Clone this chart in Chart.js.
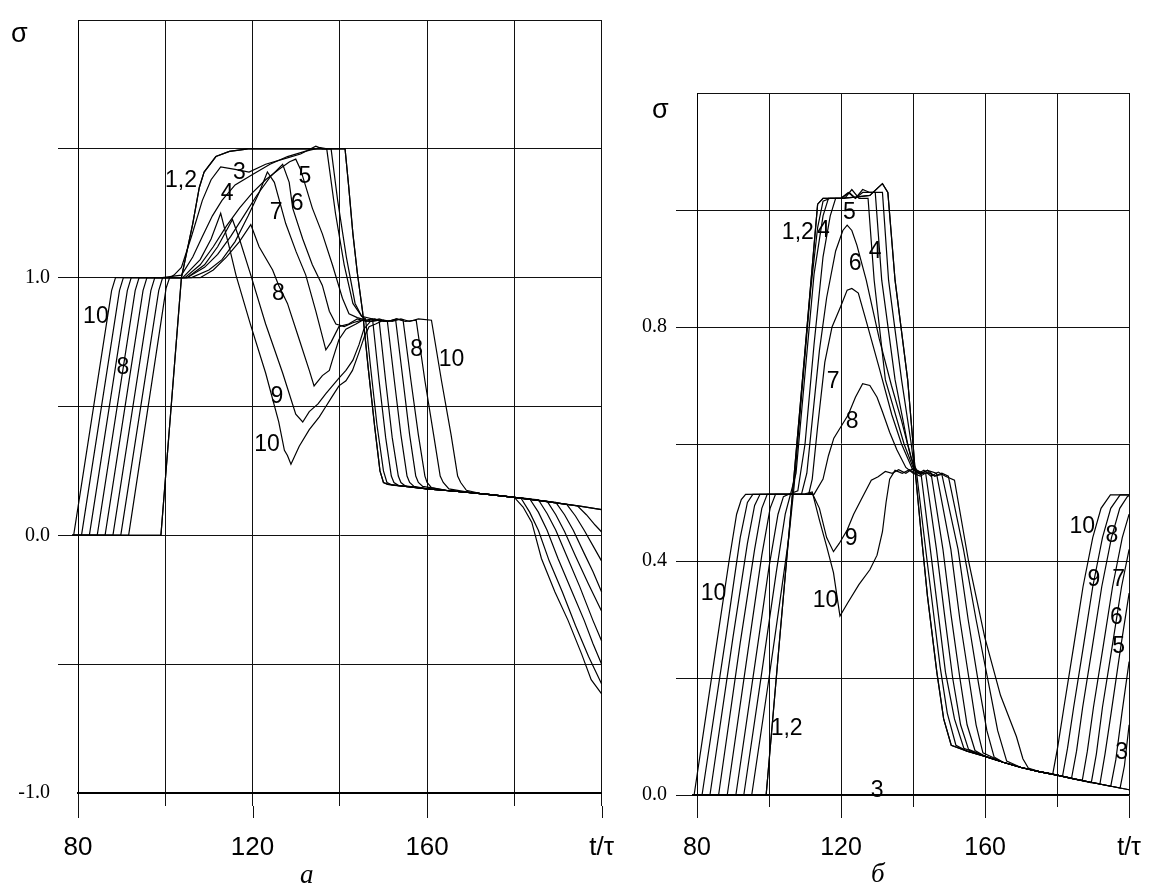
<!DOCTYPE html>
<html>
<head>
<meta charset="utf-8">
<script src="https://cdn.jsdelivr.net/npm/chart.js@4.4.1/dist/chart.umd.min.js"></script>
<style>
html, body { margin: 0; padding: 0; background: #fff; overflow: hidden; }
#wrap { position: relative; width: 1167px; height: 887px; }
canvas { position: absolute; top: 0; }
.sig { position: absolute; font-family: "Liberation Sans", Arial, sans-serif; font-size: 27px; line-height: 1; color: #000; }
.cap { position: absolute; font-family: "Liberation Serif", "Times New Roman", serif; font-style: italic; font-size: 27px; line-height: 1; color: #000; }
</style>
</head>
<body>
<div id="wrap">
  <canvas id="chartA" width="640" height="887" style="left:0"></canvas>
  <canvas id="chartB" width="567" height="887" style="left:600px"></canvas>
  <div class="sig" style="left:11px;top:20px">σ</div>
  <div class="sig" style="left:652px;top:96px">σ</div>
  <div class="cap" style="left:300px;top:861px">а</div>
  <div class="cap" style="left:871px;top:860px">б</div>
</div>
<script>
// panel а : sigma vs t/tau, curves 1..10 (1 and 2 coincide)
var a12 = [[78.7,0],[99,0],[103.7,1.0],[106.3,1.21],[107.8,1.35],[108.9,1.41],[111.6,1.47],[114.7,1.49],[119,1.5],[130,1.5],[141.2,1.5],[142,1.36],[143,1.17],[144,1.02],[145.2,0.87],[146.5,0.65],[148,0.42],[149.2,0.25],[150,0.205],[151,0.198],[155,0.19],[160,0.18],[165,0.173],[170,0.166],[175,0.157],[180,0.147],[185,0.137],[190,0.125],[195,0.113],[200,0.1]];
var a3 = [[78.7,0],[91.6,0],[100.2,0.96],[101,1.0],[102,1.01],[103.7,1.04],[106,1.16],[108.5,1.3],[110.5,1.38],[112.7,1.43],[116,1.42],[119.2,1.41],[123,1.44],[127,1.46],[131,1.48],[134.5,1.51],[136,1.5],[138,1.5],[139.5,1.3],[141.5,1.08],[143.5,0.9],[145,0.85],[145.9,0.84],[147,0.66],[148.5,0.43],[150,0.25],[150.8,0.205],[152,0.195],[155,0.19],[160,0.18],[165,0.173],[170,0.166],[175,0.157],[180,0.147],[185,0.137],[190,0.125],[194.5,0.114],[196.5,0.08],[198.5,0.04],[200,0.013]];
var a4 = [[78.7,0],[89.8,0],[98.5,0.95],[99.4,1.0],[103.7,1.01],[106.3,1.08],[108.5,1.16],[110.8,1.24],[113,1.3],[116,1.36],[120,1.4],[124,1.44],[128,1.47],[132,1.49],[135.5,1.505],[137,1.5],[139,1.25],[141,1.05],[143,0.9],[145,0.85],[147.5,0.84],[149,0.6],[150.5,0.38],[151.8,0.23],[152.4,0.205],[153.5,0.193],[160,0.18],[165,0.173],[170,0.166],[175,0.157],[180,0.147],[185,0.137],[190,0.125],[192,0.12],[194,0.075],[196,0.02],[198,-0.04],[200,-0.1]];
var a5 = [[78.7,0],[88,0],[96.7,0.95],[97.6,1.0],[104.5,1.0],[108,1.05],[111,1.12],[114,1.2],[117,1.27],[120,1.33],[123,1.38],[126,1.42],[128.5,1.45],[129.9,1.46],[131,1.42],[133.7,1.27],[136,1.17],[138.3,1.05],[140.6,0.92],[142.1,0.86],[144,0.845],[146,0.835],[147.5,0.84],[149,0.835],[150.5,0.6],[152,0.38],[153.4,0.23],[154,0.205],[155,0.192],[160,0.18],[165,0.173],[170,0.166],[175,0.157],[180,0.147],[185,0.137],[189.5,0.128],[191.5,0.08],[193.5,0.02],[196,-0.07],[198,-0.14],[200,-0.22]];
var a6 = [[78.7,0],[86.2,0],[94.9,0.95],[95.8,1.0],[105,1.0],[109,1.04],[112,1.09],[115,1.16],[118,1.24],[121,1.32],[124,1.39],[126.9,1.44],[128.4,1.37],[129.2,1.27],[131.5,1.15],[133.7,1.05],[136,0.97],[137.6,0.87],[139.1,0.82],[141,0.81],[143,0.825],[145,0.835],[147,0.83],[149,0.835],[150.9,0.83],[152.5,0.6],[154,0.39],[155.4,0.23],[156,0.205],[157,0.19],[160,0.18],[165,0.173],[170,0.166],[175,0.157],[180,0.147],[185,0.137],[187.5,0.133],[189.5,0.08],[191.5,0.015],[194,-0.08],[197,-0.19],[200,-0.295]];
var a7 = [[78.7,0],[84.4,0],[93.1,0.95],[94,1.0],[106,1.0],[110,1.03],[113,1.07],[116,1.14],[119,1.24],[121.5,1.33],[123.4,1.41],[125,1.37],[127.6,1.21],[130,1.1],[132.2,1.01],[134.5,0.87],[136.8,0.72],[138,0.75],[139.8,0.81],[142,0.82],[144,0.84],[146,0.83],[148,0.84],[150,0.83],[152.8,0.835],[154.5,0.6],[156,0.39],[157.4,0.23],[158,0.205],[159,0.19],[165,0.173],[170,0.166],[175,0.157],[180,0.147],[185.5,0.138],[187.5,0.085],[189.5,0.02],[192,-0.08],[195,-0.2],[198,-0.33],[200,-0.41]];
var a8 = [[78.7,0],[82.6,0],[91.3,0.95],[92.2,1.0],[108,1.0],[111,1.03],[114,1.08],[117,1.14],[119.6,1.206],[121.5,1.12],[124.6,1.03],[126,0.97],[128,0.9],[130.7,0.76],[133,0.64],[134.1,0.58],[136,0.62],[137.6,0.64],[138.3,0.68],[139.8,0.76],[141.4,0.8],[143.7,0.82],[145.2,0.835],[147,0.83],[149,0.84],[151,0.83],[153,0.84],[154.5,0.835],[156.3,0.6],[158,0.39],[159.5,0.23],[160,0.205],[161,0.185],[165,0.173],[170,0.166],[175,0.157],[180,0.147],[183.5,0.142],[185.5,0.09],[187.5,0.02],[190,-0.09],[193,-0.21],[196,-0.33],[198,-0.42],[200,-0.5]];
var a9 = [[78.7,0],[80.8,0],[89.5,0.95],[90.4,1.0],[105,1.0],[109,1.05],[112,1.12],[115.4,1.226],[117,1.15],[119.6,1.01],[123,0.82],[126.9,0.63],[129.9,0.47],[131.5,0.44],[133,0.48],[135,0.51],[136.8,0.55],[138.3,0.58],[139.8,0.61],[141.4,0.64],[143,0.68],[144.4,0.74],[145.5,0.8],[147,0.83],[149,0.835],[151,0.83],[153,0.84],[155,0.83],[157.5,0.835],[159.5,0.6],[161.5,0.39],[163,0.23],[163.7,0.205],[165,0.18],[170,0.166],[175,0.157],[180,0.147],[181.5,0.145],[183.5,0.09],[185.5,0.02],[188,-0.1],[191,-0.22],[194,-0.35],[197,-0.47],[200,-0.577]];
var a10 = [[78.7,0],[79,0],[87.7,0.95],[88.6,1.0],[104,1.0],[108,1.07],[110.5,1.15],[112.7,1.25],[114.5,1.13],[116.2,1.01],[119.5,0.82],[123,0.63],[126,0.44],[127.3,0.33],[128,0.31],[128.8,0.276],[130.7,0.346],[133,0.41],[135.3,0.46],[136.8,0.5],[138.3,0.54],[139.8,0.58],[141.4,0.6],[142.9,0.64],[144.4,0.71],[145.6,0.77],[146.7,0.81],[148.2,0.82],[150,0.835],[152,0.83],[154,0.84],[156,0.83],[158,0.84],[161,0.835],[163.3,0.6],[165.5,0.39],[167,0.23],[167.7,0.205],[169,0.175],[172,0.163],[176,0.155],[180,0.147],[182,0.11],[184,0.05],[186.2,-0.09],[189.3,-0.22],[192.3,-0.33],[195.4,-0.46],[197.6,-0.56],[200,-0.615]];

// panel б
var b12 = [[78.7,0],[99.2,0],[103,0.27],[106.5,0.514],[110,0.76],[112.8,0.96],[113.5,1.01],[115,1.02],[120,1.02],[124,1.022],[128,1.025],[130.6,1.04],[131.5,1.045],[133,1.03],[135,0.88],[138.5,0.71],[140,0.6],[140.5,0.56],[142.2,0.45],[144,0.34],[146.6,0.21],[148.5,0.13],[150.6,0.085],[155,0.075],[160,0.066],[165,0.056],[170,0.047],[175,0.04],[180,0.034],[185,0.027],[190,0.021],[195,0.015],[200,0.009]];
var b3 = [[78.7,0],[95.2,0],[100,0.2],[103,0.33],[105.5,0.44],[107,0.53],[109,0.68],[111.5,0.86],[113.5,0.97],[115,1.015],[117,1.02],[120,1.02],[122.3,1.03],[124,1.02],[126,1.03],[129,1.03],[131.5,1.03],[133.2,0.88],[136.8,0.71],[139.5,0.6],[140.3,0.56],[141,0.55],[143.5,0.42],[145.5,0.32],[147.5,0.22],[149.5,0.14],[151.9,0.085],[155,0.075],[160,0.066],[165,0.056],[170,0.047],[175,0.04],[180,0.034],[185,0.027],[190,0.021],[195,0.015],[197.5,0.012],[198.7,0.05],[200,0.12]];
var b4 = [[78.7,0],[93,0],[98,0.21],[102,0.38],[104.5,0.48],[106,0.515],[107.5,0.55],[110,0.72],[112.5,0.89],[115,0.99],[116.5,1.02],[120,1.02],[122,1.03],[124,1.02],[126,1.035],[128,1.03],[129.5,1.03],[131.3,0.88],[135,0.71],[138.5,0.6],[140.2,0.56],[142.2,0.55],[145,0.41],[147,0.31],[149,0.21],[151.5,0.13],[154.1,0.08],[160,0.066],[165,0.056],[170,0.047],[175,0.04],[180,0.034],[185,0.027],[190,0.021],[194.9,0.015],[196.3,0.06],[198,0.14],[200,0.228]];
var b5 = [[78.7,0],[90.8,0],[96,0.22],[100,0.39],[102.5,0.48],[104,0.51],[105.5,0.514],[108,0.52],[110,0.6],[112.5,0.77],[115,0.92],[117,0.99],[118.5,1.02],[121,1.02],[123,1.035],[125,1.02],[127.5,1.02],[129.2,0.88],[132.3,0.71],[137.5,0.6],[140,0.56],[141.5,0.55],[143.5,0.55],[146.5,0.42],[148.7,0.31],[151,0.2],[153.2,0.12],[155.4,0.078],[160,0.066],[165,0.056],[170,0.047],[175,0.04],[180,0.034],[185,0.027],[190,0.021],[191.9,0.019],[193.3,0.07],[195,0.14],[197.7,0.254],[200,0.345]];
var b6 = [[78.7,0],[88.4,0],[94,0.24],[98,0.41],[100.3,0.49],[101.8,0.514],[109,0.514],[110.5,0.55],[112,0.64],[114,0.76],[116,0.85],[118.5,0.93],[120.5,0.965],[121.7,0.974],[123,0.965],[124.4,0.94],[127,0.88],[130.6,0.78],[134,0.7],[136.8,0.64],[139.5,0.575],[141,0.555],[143,0.55],[145,0.55],[148.3,0.42],[150.5,0.31],[153,0.2],[155,0.12],[157.2,0.076],[160,0.066],[165,0.056],[170,0.047],[175,0.04],[180,0.034],[185,0.027],[189.5,0.021],[190.9,0.07],[192.6,0.15],[195.3,0.254],[197.9,0.356],[200,0.42]];
var b7 = [[78.7,0],[86,0],[92,0.26],[96,0.42],[98,0.49],[99.5,0.514],[111,0.514],[112,0.54],[113.5,0.63],[115.5,0.74],[117.5,0.8],[119.9,0.835],[121.7,0.863],[123,0.866],[124.8,0.858],[127,0.81],[130.6,0.73],[134.1,0.65],[136.8,0.6],[139.9,0.556],[142,0.55],[144,0.555],[146.5,0.55],[150.5,0.42],[153,0.3],[155.5,0.2],[157.5,0.12],[159.4,0.072],[165,0.056],[170,0.047],[175,0.04],[180,0.034],[185,0.027],[187,0.025],[188.4,0.075],[190.1,0.15],[192.8,0.254],[195.4,0.356],[198.1,0.44],[200,0.48]];
var b8 = [[78.7,0],[83.6,0],[90,0.27],[94,0.43],[96,0.495],[97.5,0.514],[112.5,0.514],[115,0.54],[116.5,0.58],[118,0.61],[120,0.63],[122,0.65],[124,0.68],[126,0.703],[128,0.7],[130,0.68],[131.5,0.655],[133.5,0.62],[135.5,0.59],[138,0.56],[140,0.55],[142,0.545],[144,0.552],[146,0.545],[148,0.548],[152.5,0.42],[155.3,0.3],[158.2,0.19],[160.5,0.11],[162.5,0.065],[165,0.056],[170,0.047],[175,0.04],[180,0.034],[184,0.028],[185.4,0.075],[187.1,0.15],[189.8,0.254],[192.4,0.356],[195.1,0.44],[197.4,0.49],[199.5,0.51],[200,0.512]];
var b9 = [[78.7,0],[81.4,0],[88,0.27],[92,0.44],[94,0.5],[95.5,0.514],[110,0.514],[112,0.516],[114,0.49],[116,0.44],[117.9,0.416],[119.5,0.43],[121.7,0.453],[123.5,0.48],[125.5,0.504],[128.4,0.538],[130.3,0.544],[132.3,0.553],[134.2,0.55],[136,0.556],[138,0.55],[140,0.558],[142,0.548],[144,0.555],[146,0.545],[148,0.55],[149.8,0.545],[154,0.42],[157.5,0.3],[161,0.19],[163.5,0.11],[166,0.058],[170,0.047],[175,0.04],[180,0.034],[181.5,0.032],[182.9,0.08],[184.6,0.15],[187.3,0.254],[189.9,0.356],[192.6,0.44],[194.9,0.49],[197.5,0.513],[200,0.513]];
var b10 = [[78.7,0],[79.2,0],[85,0.24],[88.9,0.4],[91,0.48],[92.3,0.505],[93.5,0.514],[110,0.515],[112,0.518],[114,0.47],[116,0.425],[117.9,0.38],[119.7,0.306],[122,0.33],[125,0.36],[128,0.385],[130,0.41],[131.5,0.45],[132.5,0.5],[133.5,0.54],[135,0.555],[137,0.55],[139,0.556],[141,0.548],[143,0.555],[145,0.545],[147,0.552],[149,0.545],[151.5,0.538],[155.4,0.4],[159.9,0.27],[164.3,0.17],[168.7,0.1],[170.5,0.062],[172,0.046],[175,0.04],[178.8,0.036],[180.2,0.083],[181.9,0.15],[184.6,0.254],[187.2,0.356],[189.9,0.44],[192.2,0.49],[194.8,0.513],[200,0.513]];

// curve numbers written on the plots: text, t/tau, sigma
var numsA = [['1,2',103.6,1.377],['3',117,1.406],['4',114.2,1.327],['5',132,1.392],['6',130.2,1.288],['7',125.4,1.254],['8',125.9,0.938],['9',125.6,0.538],['10',123.3,0.35],['10',84.1,0.85],['8',90.3,0.65],['8',157.6,0.72],['10',165.6,0.68]];
var numsB = [['1,2',108,0.961],['4',115.1,0.964],['5',122.3,0.995],['6',123.9,0.909],['4',129.5,0.928],['7',117.8,0.706],['8',123.1,0.638],['9',122.8,0.439],['10',115.7,0.333],['10',84.6,0.345],['1,2',104.9,0.113],['3',130,0.007],['10',187,0.458],['8',195.2,0.444],['9',190.2,0.368],['7',197.1,0.368],['6',196.5,0.304],['5',197.1,0.253],['3',197.9,0.073]];

// axis labels
var xTickText = {80: '80', 120: '120', 160: '160', 200: 't/τ'};
var yLabelsA = [1.0, 0.0, -1.0];
var yLabelsB = [0.0, 0.4, 0.8];

var sans = '"Liberation Sans", Arial, sans-serif';
var serif = '"Liberation Serif", "Times New Roman", serif';

// longer marks under the labelled t/tau values, and the curve numbers
var extras = {
    id: 'extras',
    afterDatasetsDraw: function (chart, args, o) {
        var ctx = chart.ctx, x = chart.scales.x, y = chart.scales.y;
        var bottom = chart.chartArea.bottom;
        ctx.save();
        ctx.strokeStyle = '#111';
        ctx.lineWidth = 1;
        [80, 120, 160, 200].forEach(function (v) {
            var px = Math.round(x.getPixelForValue(v)) + 0.5;
            ctx.beginPath();
            ctx.moveTo(px, bottom + o.minorLen);
            ctx.lineTo(px, bottom + o.majorLen);
            ctx.stroke();
        });
        ctx.fillStyle = '#000';
        ctx.font = '23px ' + sans;
        ctx.textAlign = 'center';
        ctx.textBaseline = 'middle';
        o.nums.forEach(function (n) {
            ctx.fillText(n[0], x.getPixelForValue(n[1]), y.getPixelForValue(n[2]));
        });
        ctx.restore();
    }
};

function lines(list) {
    return list.map(function (pts) {
        return {
            data: pts.map(function (p) { return {x: p[0], y: p[1]}; }),
            borderColor: '#000',
            borderWidth: 1.2,
            pointRadius: 0,
            tension: 0,
            fill: false,
            clip: 12
        };
    });
}

function panel(id, o) {
    return new Chart(document.getElementById(id).getContext('2d'), {
        type: 'line',
        data: {datasets: lines(o.curves)},
        options: {
            responsive: false,
            animation: false,
            devicePixelRatio: 1,
            layout: {padding: o.padding},
            plugins: {
                legend: {display: false},
                tooltip: {enabled: false},
                extras: {nums: o.nums, minorLen: o.minorLen, majorLen: o.majorLen}
            },
            scales: {
                x: {
                    type: 'linear', min: 80, max: 200,
                    ticks: {
                        stepSize: 20, autoSkip: false, maxRotation: 0, padding: o.xPad,
                        color: '#000', font: {family: sans, size: o.xFont},
                        callback: function (v) { return xTickText[v] || ''; }
                    },
                    grid: {color: '#111', tickColor: '#111', tickLength: o.minorLen},
                    border: {color: '#000', width: o.xBorder},
                    afterFit: function (s) { s.height = o.xHeight; }
                },
                y: {
                    type: 'linear', min: o.yMin, max: o.yMax,
                    ticks: {
                        stepSize: o.yStep, padding: o.yPad,
                        color: '#000', font: {family: serif, size: o.yFont},
                        callback: function (v) {
                            return o.yLabels.some(function (l) { return Math.abs(l - v) < 1e-6; }) ? v.toFixed(1) : '';
                        }
                    },
                    grid: {
                        color: '#111', tickLength: o.yTick,
                        tickColor: function (c) {
                            var v = c.tick ? c.tick.value : 0;
                            return o.noTick.some(function (l) { return Math.abs(l - v) < 1e-6; }) ? 'rgba(0,0,0,0)' : '#111';
                        }
                    },
                    border: {color: '#000', width: 1},
                    afterFit: function (s) { s.width = o.yWidth; }
                }
            }
        },
        plugins: [extras]
    });
}

panel('chartA', {
    curves: [a12, a12, a3, a4, a5, a6, a7, a8, a9, a10],
    nums: numsA,
    padding: {top: 14, right: 36, left: 0, bottom: 0},
    minorLen: 13, majorLen: 25, xPad: 26, xFont: 26, xHeight: 94, xBorder: 2,
    yMin: -1, yMax: 2, yStep: 0.5, yPad: 8, yFont: 20, yTick: 20, yWidth: 78,
    yLabels: yLabelsA, noTick: [2, -1]
});

panel('chartB', {
    curves: [b12, b12, b3, b4, b5, b6, b7, b8, b9, b10],
    nums: numsB,
    padding: {top: 93, right: 19, left: 0, bottom: 0},
    minorLen: 12, majorLen: 23, xPad: 26, xFont: 25, xHeight: 92, xBorder: 1.5,
    yMin: 0, yMax: 1.2, yStep: 0.2, yPad: 9, yFont: 20, yTick: 21, yWidth: 97,
    yLabels: yLabelsB, noTick: [1.2]
});
</script>
</body>
</html>
